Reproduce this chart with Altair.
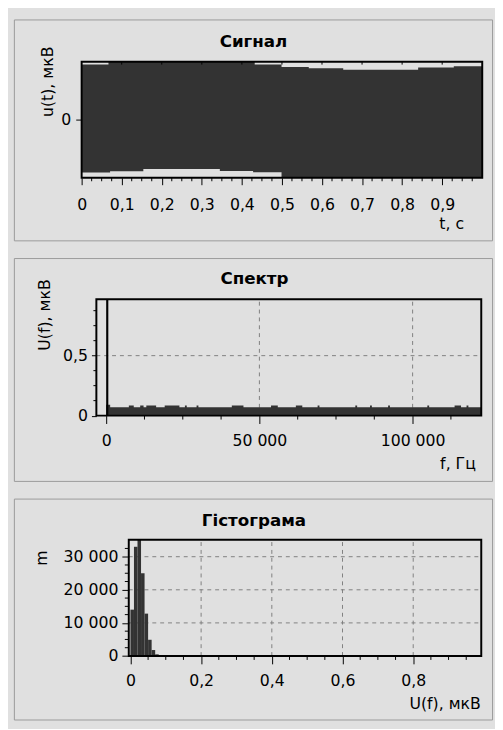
import altair as alt
import pandas as pd

# ---------------- data ----------------
# Signal: envelope of the dense oscillation (upper and lower edges, step-wise)
sig_t = [0.0, 0.067, 0.071, 0.154, 0.345, 0.428, 0.432, 0.499, 0.567,
         0.653, 0.840, 0.929, 1.0]
sig_hi = [0.95, 1.0, 1.0, 1.0, 1.0, 1.0, 0.95, 0.91, 0.887,
          0.86, 0.90, 0.92, 0.92]
sig_lo = [-0.91, -0.91, -0.888, -0.848, -0.882, -0.905, -0.905, -1.0, -1.0,
          -1.0, -1.0, -1.0, -1.0]
sig_major = [0.0, 0.1, 0.2, 0.3, 0.4, 0.5, 0.6, 0.7, 0.8, 0.9]
sig_minor = [0.025, 0.05, 0.075, 0.125, 0.15, 0.175, 0.225, 0.25, 0.275,
             0.325, 0.35, 0.375, 0.425, 0.45, 0.475, 0.525, 0.55, 0.575,
             0.625, 0.65, 0.675, 0.725, 0.75, 0.775, 0.825, 0.85, 0.875,
             0.925, 0.95, 0.975]

# Spectrum: noise floor (step-wise) and the DC component
spec_f = [0, 1300, 7400, 9000, 11100, 12200, 13100, 16300, 19100, 23900,
          25700, 26300, 29500, 30100, 41000, 44800, 53800, 56000, 61900,
          64000, 69000, 69600, 81300, 81900, 86100, 86700, 92000, 92600,
          104800, 105400, 113700, 115800, 117600, 118200, 122400]
spec_u = [0.09, 0.07, 0.085, 0.07, 0.085, 0.07, 0.085, 0.07, 0.085, 0.07,
          0.085, 0.07, 0.085, 0.07, 0.085, 0.07, 0.085, 0.07, 0.085,
          0.07, 0.085, 0.07, 0.085, 0.07, 0.085, 0.07, 0.085, 0.07,
          0.085, 0.07, 0.085, 0.07, 0.085, 0.07, 0.07]
dc_lo = [0]
dc_hi = [700]
dc_u = [1.0]
spec_major_x = [0, 50000, 100000]
spec_minor_x = [12500, 25000, 37500, 62500, 75000, 87500, 112500]
spec_major_y = [0, 0.5]
spec_minor_y = [0.125, 0.25, 0.375, 0.625, 0.75, 0.875]
spec_grid_x = [50000, 100000]
spec_grid_y = [0.5]

# Histogram
hist_lo = [0.00, 0.01, 0.02, 0.03, 0.04, 0.05, 0.06, 0.07]
hist_hi = [0.01, 0.02, 0.03, 0.04, 0.05, 0.06, 0.07, 0.08]
hist_n = [14000, 33000, 36000, 25000, 12800, 4900, 1800, 500]
hist_major_x = [0, 0.2, 0.4, 0.6, 0.8]
hist_minor_x = [0.05, 0.1, 0.15, 0.25, 0.3, 0.35, 0.45, 0.5, 0.55,
                0.65, 0.7, 0.75, 0.85, 0.9, 0.95]
hist_major_y = [0, 10000, 20000, 30000]
hist_minor_y = [2500, 5000, 7500, 12500, 15000, 17500, 22500, 25000,
                27500, 32500]
hist_grid_x = [0.2, 0.4, 0.6, 0.8]
hist_grid_y = [10000, 20000, 30000]

# ---------------- helpers ----------------
DARK = "#333333"
GRID = "#808080"
PANEL_BG = "#e0e0e0"
FONT = "DejaVu Sans"
DEC = "replace(format(datum.value, '.1~f'), '.', ',')"
THOU = "replace(format(datum.value, ','), ',', ' ')"
one = pd.DataFrame({"k": [0]})
BOX_W = 487


def plot_frame(xd, yd, xs, ys, ax, ay):
    return alt.Chart(one).mark_rect(fill="transparent", stroke="black",
                                    strokeWidth=2).encode(
        x=alt.X(datum=xd[0], scale=xs, axis=ax), x2=alt.datum(xd[1]),
        y=alt.Y(datum=yd[0], scale=ys, axis=ay), y2=alt.datum(yd[1]))


def head(text, x, y):
    return alt.Chart(one).mark_text(
        text=text, font=FONT, fontSize=17, fontWeight="bold",
        align="center", baseline="alphabetic", color="black").encode(
        x=alt.value(x), y=alt.value(y))


def xticks(vals, xs, ax, ys, ay, yv, ln):
    df = pd.DataFrame({"x": vals})
    return alt.Chart(df).mark_rule(color="black", strokeWidth=1,
                                   y2Offset=ln).encode(
        x=alt.X("x:Q", scale=xs, axis=ax),
        y=alt.Y(datum=yv, scale=ys, axis=ay), y2=alt.datum(yv))


def yticks(vals, ys, ay, xs, ax, xv, ln):
    df = pd.DataFrame({"y": vals})
    return alt.Chart(df).mark_rule(color="black", strokeWidth=1,
                                   x2Offset=-ln).encode(
        y=alt.Y("y:Q", scale=ys, axis=ay),
        x=alt.X(datum=xv, scale=xs, axis=ax), x2=alt.datum(xv))


def xgrid(vals, xs, ax, yd, ys, ay):
    df = pd.DataFrame({"x": vals})
    return alt.Chart(df).mark_rule(color=GRID, strokeDash=[4, 4],
                                   strokeWidth=1).encode(
        x=alt.X("x:Q", scale=xs, axis=ax),
        y=alt.Y(datum=yd[0], scale=ys, axis=ay), y2=alt.datum(yd[1]))


def ygrid(vals, ys, ay, xd, xs, ax):
    df = pd.DataFrame({"y": vals})
    return alt.Chart(df).mark_rule(color=GRID, strokeDash=[4, 4],
                                   strokeWidth=1).encode(
        y=alt.Y("y:Q", scale=ys, axis=ay),
        x=alt.X(datum=xd[0], scale=xs, axis=ax), x2=alt.datum(xd[1]))


# ---------------- panel 1: signal ----------------
H1 = 225
xd1, yd1 = [0, 1], [-1, 1]
xs1 = alt.Scale(domain=xd1, range=[69, 477], nice=False, zero=False)
ys1 = alt.Scale(domain=yd1, range=[161.3, 43], nice=False, zero=False)
ax1x = alt.Axis(values=sig_major, labelExpr=DEC, tickSize=7, labelPadding=12,
                offset=-63.7, title="t, с", titleX=458, titleY=52,
                titleAlign="right", titleBaseline="alphabetic")
ax1y = alt.Axis(values=[0], tickSize=6, labelPadding=5, offset=-69,
                title="u(t), мкВ", titleAngle=270, titleX=-34.5, titleY=63,
                titleAlign="center", titleBaseline="middle")

df_sig = pd.DataFrame({"x": sig_t, "y": sig_hi, "y_lo": sig_lo})

sig_area = alt.Chart(df_sig).mark_area(
    interpolate="step-after", color=DARK).encode(
    x=alt.X("x:Q", scale=xs1, axis=ax1x),
    y=alt.Y("y:Q", scale=ys1, axis=ax1y),
    y2="y_lo:Q")

p1 = alt.layer(
    sig_area,
    xticks(sig_minor, xs1, ax1x, ys1, ax1y, yd1[0], 3.5),
    xticks(sig_major[1:], xs1, ax1x, ys1, ax1y, yd1[1], 3),
    plot_frame(xd1, yd1, xs1, ys1, ax1x, ax1y),
    head("Сигнал", 244, 28),
).properties(width=BOX_W, height=H1)

# ---------------- panel 2: spectrum ----------------
H2 = 227
xd2, yd2 = [-3200, 122400], [0, 0.97]
xs2 = alt.Scale(domain=xd2, range=[84, 476], nice=False, zero=False)
ys2 = alt.Scale(domain=yd2, range=[160.5, 42], nice=False, zero=False,
                clamp=True)
ax2x = alt.Axis(values=spec_major_x, labelExpr=THOU, tickSize=8,
                labelPadding=9, offset=-66.5, title="f, Гц", titleX=470,
                titleY=53.5, titleAlign="right", titleBaseline="alphabetic")
ax2y = alt.Axis(values=spec_major_y, labelExpr=DEC, tickSize=5,
                labelPadding=4, offset=-84, title="U(f), мкВ", titleAngle=270,
                titleX=-52.3, titleY=57.5, titleAlign="center",
                titleBaseline="middle")

df_spec = pd.DataFrame({"x": spec_f, "y": spec_u})
df_dc = pd.DataFrame({"x": dc_lo, "x_hi": dc_hi, "y": dc_u})

noise = alt.Chart(df_spec).mark_area(
    interpolate="step-after", color=DARK).encode(
    x=alt.X("x:Q", scale=xs2, axis=ax2x),
    y=alt.Y("y:Q", scale=ys2, axis=ax2y),
    y2=alt.datum(0))

dc = alt.Chart(df_dc).mark_rect(color="black").encode(
    x=alt.X("x:Q", scale=xs2, axis=ax2x), x2="x_hi:Q",
    y=alt.Y("y:Q", scale=ys2, axis=ax2y), y2=alt.datum(0))

p2 = alt.layer(
    xgrid(spec_grid_x, xs2, ax2x, yd2, ys2, ax2y),
    ygrid(spec_grid_y, ys2, ax2y, xd2, xs2, ax2x),
    noise, dc,
    xticks(spec_minor_x, xs2, ax2x, ys2, ax2y, yd2[0], 4),
    yticks(spec_minor_y, ys2, ax2y, xs2, ax2x, xd2[0], 3),
    plot_frame(xd2, yd2, xs2, ys2, ax2x, ax2y),
    head("Спектр", 245, 26.7),
).properties(width=BOX_W, height=H2)

# ---------------- panel 3: histogram ----------------
H3 = 225
xd3, yd3 = [-0.0047, 0.9925], [0, 35100]
xs3 = alt.Scale(domain=xd3, range=[117, 476], nice=False, zero=False)
ys3 = alt.Scale(domain=yd3, range=[160.3, 42], nice=False, zero=False,
                clamp=True)
ax3x = alt.Axis(values=hist_major_x, labelExpr=DEC, tickSize=8,
                labelPadding=9, offset=-64.7, title="U(f), мкВ", titleX=475,
                titleY=53, titleAlign="right", titleBaseline="alphabetic")
ax3y = alt.Axis(values=hist_major_y, labelExpr=THOU, tickSize=7,
                labelPadding=4, offset=-117, title="m", titleAngle=270,
                titleX=-88.3, titleY=60, titleAlign="center",
                titleBaseline="middle")

df_hist = pd.DataFrame({"x": hist_lo, "x_hi": hist_hi, "y": hist_n})

bars = alt.Chart(df_hist).mark_rect(color=DARK).encode(
    x=alt.X("x:Q", scale=xs3, axis=ax3x), x2="x_hi:Q",
    y=alt.Y("y:Q", scale=ys3, axis=ax3y), y2=alt.datum(0))

p3 = alt.layer(
    xgrid(hist_grid_x, xs3, ax3x, yd3, ys3, ax3y),
    ygrid(hist_grid_y, ys3, ax3y, xd3, xs3, ax3x),
    bars,
    xticks(hist_minor_x, xs3, ax3x, ys3, ax3y, yd3[0], 4),
    yticks(hist_minor_y, ys3, ax3y, xs3, ax3x, xd3[0], 4),
    plot_frame(xd3, yd3, xs3, ys3, ax3x, ax3y),
    head("Гістограма", 244.5, 28),
).properties(width=BOX_W, height=H3)

chart = alt.vconcat(p1, p2, p3, spacing=16).properties(
    background=PANEL_BG,
    padding={"left": 5, "top": 4, "right": 2, "bottom": 2},
).configure_view(
    stroke="#9a9a9a", strokeWidth=1
).configure_axis(
    labelFont=FONT, labelFontSize=16, labelColor="black",
    titleFont=FONT, titleFontSize=16, titleFontWeight="normal",
    titleColor="black", tickColor="black", tickWidth=1, domain=False,
    labelFlush=False, labelOverlap=False, grid=False
)

chart.save("out.html", embed_options={"renderer": "svg", "actions": False})
